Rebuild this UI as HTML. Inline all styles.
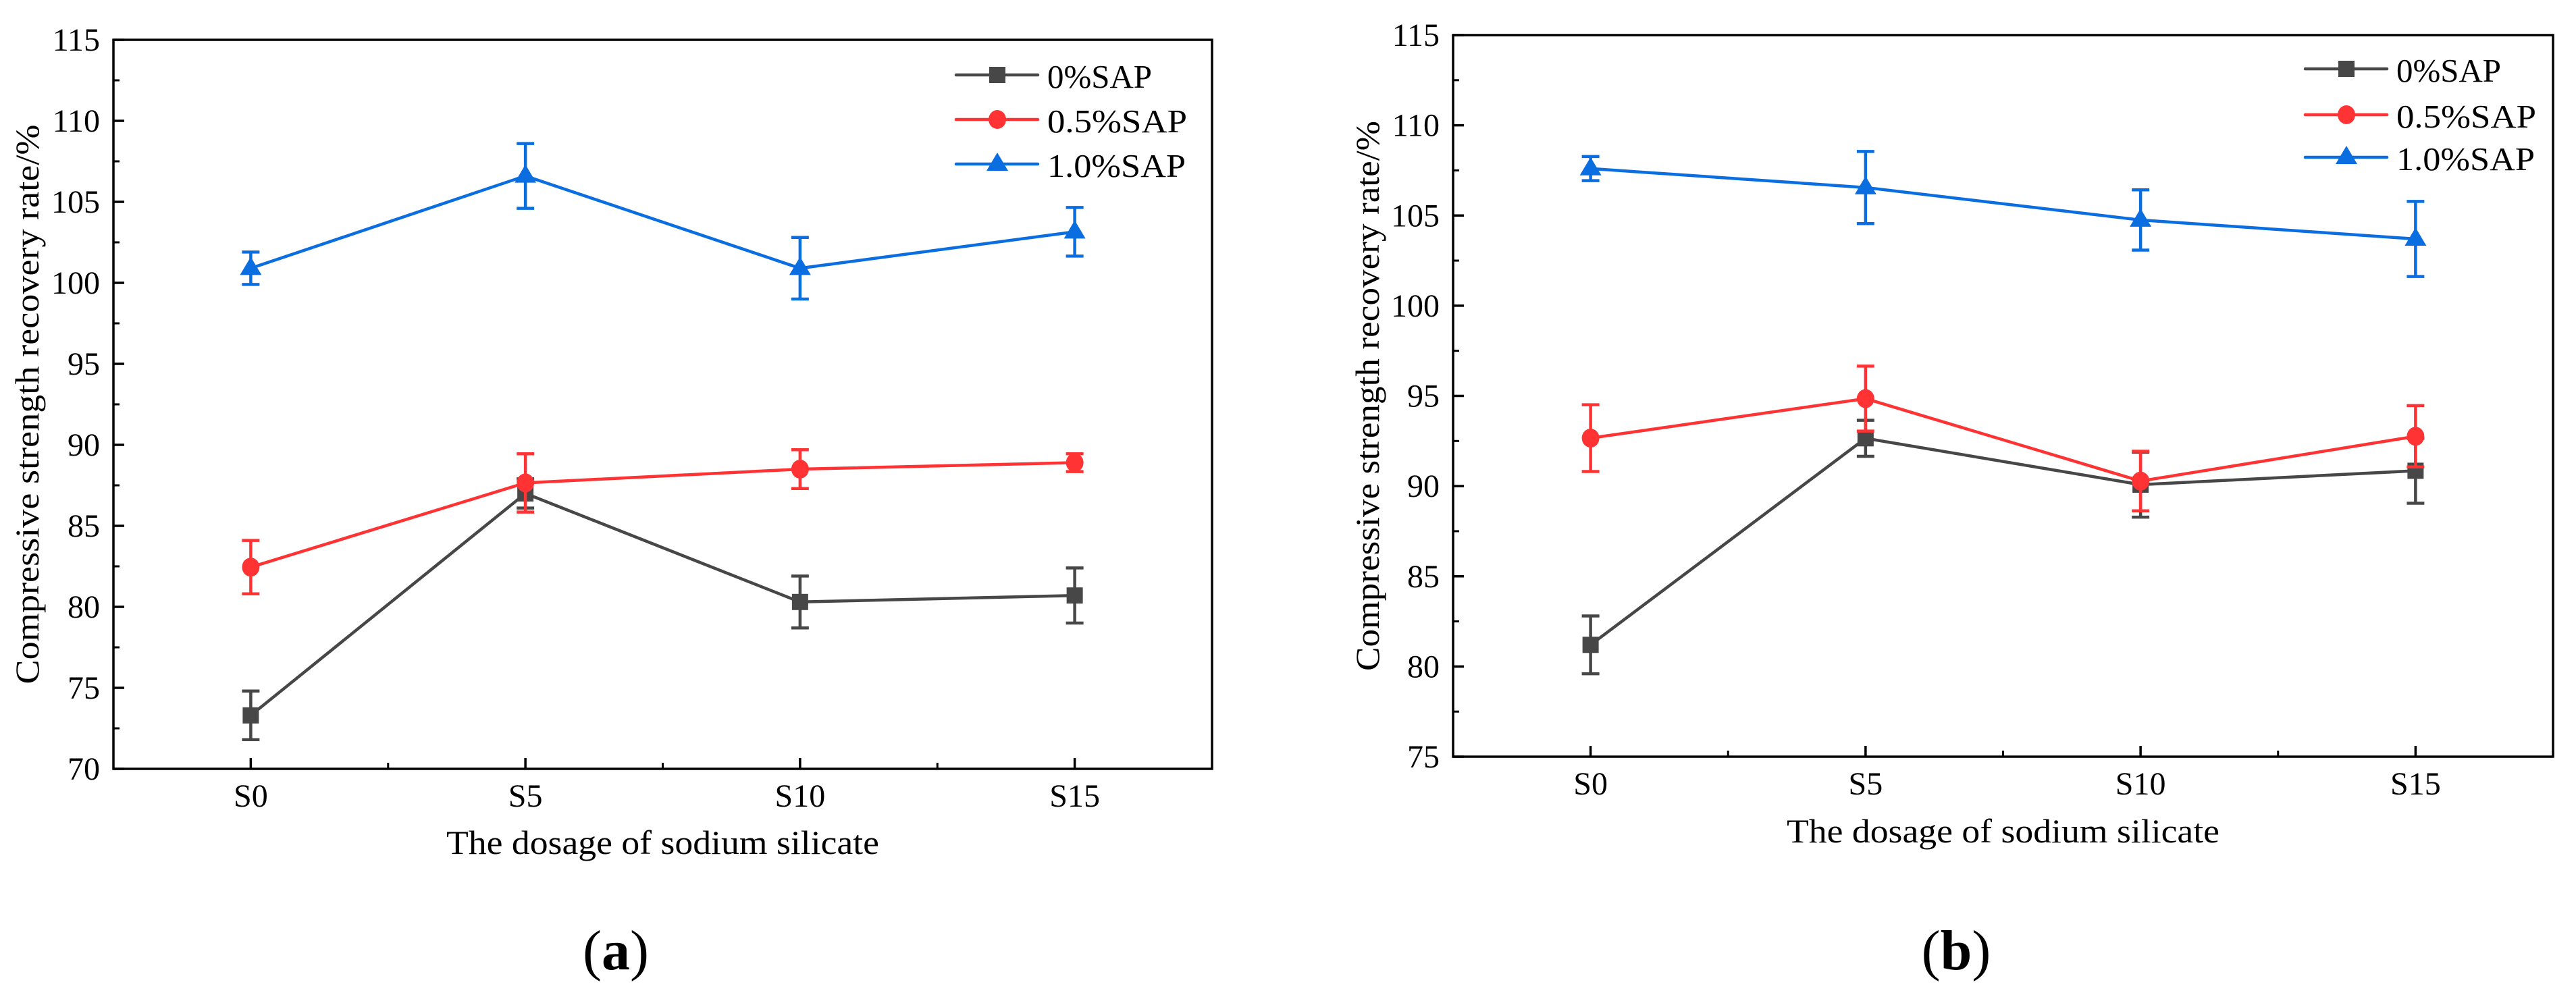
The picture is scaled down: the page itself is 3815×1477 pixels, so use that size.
<!DOCTYPE html>
<html><head><meta charset="utf-8"><style>
html,body{margin:0;padding:0;background:#fff;}
svg{display:block;font-family:"Liberation Serif","Times New Roman",serif;}
</style></head><body>
<svg id="fig" width="3815" height="1477" viewBox="0 0 3815 1477" xmlns="http://www.w3.org/2000/svg"></svg>
<script>
const categories = ["S0","S5","S10","S15"];
const seriesNames = ["0%SAP","0.5%SAP","1.0%SAP"];
// panel (a)
const a0 = [73.3, 87.0, 80.3, 80.7];
const a0err = [1.5, 0.9, 1.6, 1.7];
const a05 = [82.45, 87.65, 88.5, 88.9];
const a05err = [1.65, 1.8, 1.2, 0.55];
const a10 = [100.9, 106.6, 100.9, 103.15];
const a10err = [1.0, 2.0, 1.9, 1.5];
const aTicks = [70,75,80,85,90,95,100,105,110,115];
// panel (b)
const b0 = [81.2, 92.65, 90.08, 90.85];
const b0err = [1.6, 1.0, 1.8, 1.8];
const b05 = [92.66, 94.85, 90.28, 92.76];
const b05err = [1.85, 1.8, 1.65, 1.7];
const b10 = [107.6, 106.55, 104.75, 103.7];
const b10err = [0.67, 2.0, 1.67, 2.08];
const bTicks = [75,80,85,90,95,100,105,110,115];

const NS = "http://www.w3.org/2000/svg";
const svg = document.getElementById("fig");
const colors = ["#474747","#ff3333","#0a6ee0"];
function mk(tag, attrs, parent){
  const e = document.createElementNS(NS, tag);
  for (const k in attrs) e.setAttribute(k, attrs[k]);
  (parent||svg).appendChild(e);
  return e;
}
function marker(g, kind, cx, cy, color){
  let m;
  if (kind===0) m = mk("rect",{x:cx-12,y:cy-12,width:24,height:24,fill:color},g);
  else if (kind===1) m = mk("ellipse",{cx:cx,cy:cy,rx:13,ry:14,fill:color},g);
  else m = mk("polygon",{points:`${cx},${cy-17} ${cx+16},${cy+10} ${cx-16},${cy+10}`,fill:color},g);
  return m;
}
function panel(P){
  const g = mk("g",{});
  
  
  const L=P.left,R=P.right,T=P.top,B=P.bottom;
  const xs = i => L + (R-L)*(i+0.5)/categories.length;
  const ys = v => B - (v-P.ymin)/(P.ymax-P.ymin)*(B-T);
  const fr = mk("rect",{x:L,y:T,width:R-L,height:B-T,fill:"none",stroke:"#000","stroke-width":3.5},g);
  
  
  P.ticks.forEach((t,i)=>{
    const y = ys(t);
    mk("line",{x1:L,x2:L+16,y1:y,y2:y,stroke:"#000","stroke-width":3.5},g);
    if (i<P.ticks.length-1){
      const ym = ys(t+2.5);
      mk("line",{x1:L,x2:L+9,y1:ym,y2:ym,stroke:"#000","stroke-width":3},g);
    }
    const tx = mk("text",{x:L-20,y:y+16,"font-size":48,"text-anchor":"end",fill:"#000"},g);
    tx.textContent = t;
    
    
  });
  categories.forEach((c,i)=>{
    const x = xs(i);
    mk("line",{x1:x,x2:x,y1:B,y2:B-16,stroke:"#000","stroke-width":3.5},g);
    if (i<categories.length-1){
      const xm = (xs(i)+xs(i+1))/2;
      mk("line",{x1:xm,x2:xm,y1:B,y2:B-9,stroke:"#000","stroke-width":3},g);
    }
    const tx = mk("text",{x:x,y:P.xlabBase,"font-size":48,"text-anchor":"middle",fill:"#000"},g);
    tx.textContent = c;
    
    
  });
  P.series.forEach((s,k)=>{
    const sg = mk("g",{},g);
    
    
    const pts = s.vals.map((v,i)=>xs(i)+","+ys(v)).join(" ");
    const pl = mk("polyline",{points:pts,fill:"none",stroke:colors[k],"stroke-width":4.5},sg);
    
    
    s.vals.forEach((v,i)=>{
      const x=xs(i), y1=ys(v+s.err[i]), y2=ys(v-s.err[i]);
      const eb = mk("path",{d:`M${x},${y1}V${y2}M${x-13},${y1}H${x+13}M${x-13},${y2}H${x+13}`,stroke:colors[k],"stroke-width":4.5,fill:"none"},sg);
      
      
      const m = marker(sg,k,x,ys(v),colors[k]);
      
      
    });
  });
  const lg = mk("g",{},g);
  
  
  seriesNames.forEach((n,k)=>{
    const y = P.legY[k];
    mk("line",{x1:P.legX,x2:P.legX+121,y1:y,y2:y,stroke:colors[k],"stroke-width":4.5,"stroke-linecap":"round"},lg);
    marker(lg,k,P.legX+61,y,colors[k]);
    const tx = mk("text",{x:P.legX+135,y:y+19,"font-size":49,fill:"#000",textLength:[155,207,205][k],lengthAdjust:"spacingAndGlyphs"},lg);
    tx.textContent = n;
    
    
  });
  const xt = mk("text",{x:(L+R)/2,y:P.xtitleBase,"font-size":50,"text-anchor":"middle",fill:"#000",textLength:641,lengthAdjust:"spacingAndGlyphs"},g);
  xt.textContent = "The dosage of sodium silicate";
  
  
  const cy = (T+B)/2;
  const yt = mk("text",{x:0,y:0,"font-size":50,"text-anchor":"middle",fill:"#000",textLength:P.ytitleLen,lengthAdjust:"spacingAndGlyphs",transform:`translate(${P.ytitleX},${cy}) rotate(-90)`},g);
  yt.textContent = "Compressive strength recovery rate/%";
  
  
  const cap = mk("text",{x:P.capX,y:1436,"font-size":84,"text-anchor":"middle",fill:"#000"},g);
  
  
  cap.innerHTML = '(<tspan font-weight="bold">'+P.cap+'</tspan>)';
}
panel({name:"panel-a",left:168,right:1795,top:59,bottom:1139,ymin:70,ymax:115,ticks:aTicks,
  xlabBase:1195,xtitleBase:1265,ytitleX:57,ytitleLen:829,capX:912,cap:"a",
  legX:1416,legY:[111,177,243],
  series:[{vals:a0,err:a0err},{vals:a05,err:a05err},{vals:a10,err:a10err}]});
panel({name:"panel-b",left:2152,right:3781,top:52,bottom:1121,ymin:75,ymax:115,ticks:bTicks,
  xlabBase:1177,xtitleBase:1248,ytitleX:2042,ytitleLen:815,capX:2897,cap:"b",
  legX:3414,legY:[102,170,233],
  series:[{vals:b0,err:b0err},{vals:b05,err:b05err},{vals:b10,err:b10err}]});
</script>
</body></html>
